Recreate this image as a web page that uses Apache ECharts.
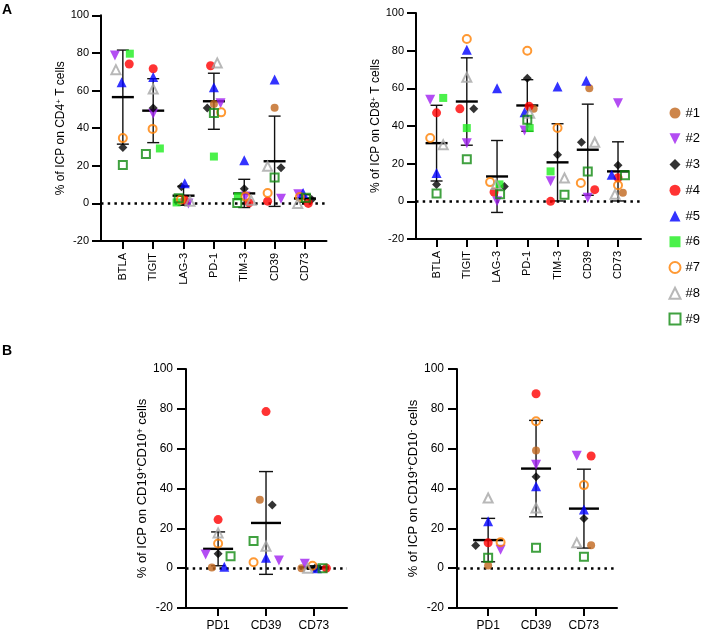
<!DOCTYPE html>
<html><head><meta charset="utf-8">
<script src="https://cdn.jsdelivr.net/npm/echarts@6/dist/echarts.min.js"></script>
<style>html,body{margin:0;padding:0;background:#fff}#c{width:722px;height:634px}</style>
</head><body><div id="c"></div>
<script>
// ---------- DATA ----------
const subjects = ['#1','#2','#3','#4','#5','#6','#7','#8','#9'];
const catsT = ['BTLA','TIGIT','LAG-3','PD-1','TIM-3','CD39','CD73'];
const catsB = ['PD1','CD39','CD73'];

// rows = subjects #1..#9, columns = categories
const cd4Values = [
  [null, null, null, 52.8, null, 50.9, null],
  [78.6, 47.6, 0.0, 53.3, 3.7, 2.5, 4.8],
  [29.7, 50.7, 8.9, 50.7, 7.8, 19.0, 2.1],
  [74.1, 71.6, 1.8, 73.2, 0.3, 1.2, 0.0],
  [64.4, 67.2, 10.7, 61.7, 22.9, 65.8, 5.5],
  [79.6, 29.2, 0.5, 24.9, 3.7, null, null],
  [34.7, 39.6, 2.1, 48.4, 3.6, 5.5, 3.4],
  [71.1, 60.8, 1.2, 74.7, 1.6, 19.7, 0.0],
  [20.4, 26.3, 2.7, 48.0, 0.2, 13.7, 3.0]
];
const cd4Mean = [56.5, 49.3, 4.1, 54.3, 5.3, 22.4, 2.6];
const cd4SD   = [25.0, 17.0, 5.1, 14.9, 7.5, 24.0, 2.0];

const cd8Values = [
  [null, null, null, 49.1, null, 60.0, 4.6],
  [53.9, 30.9, 0.0, 37.6, 10.6, 1.9, 52.1],
  [9.0, 49.1, 7.9, 65.3, 24.7, 31.4, 19.1],
  [47.0, 49.1, 4.9, 50.5, 0.0, 6.2, 12.5],
  [15.0, 80.5, 60.0, 47.3, 61.0, 64.0, 14.1],
  [54.9, 38.9, 9.0, 38.9, 15.9, null, null],
  [33.6, 86.2, 10.2, 80.0, 38.9, 9.7, 8.5],
  [30.0, 65.9, 9.0, 46.8, 12.4, 31.4, 3.7],
  [4.2, 22.3, 3.7, 43.3, 3.5, 15.9, 13.8]
];
const cd8Mean = [30.9, 53.0, 13.2, 50.9, 20.7, 27.4, 15.9];
const cd8SD   = [20.1, 23.2, 19.1, 13.7, 20.5, 24.2, 15.7];

const bPlusValues = [
  [0.3, 34.4, 0.0],
  [6.8, 3.8, 2.2],
  [7.3, 31.7, 0.0],
  [24.4, 78.6, 0.0],
  [0.7, 5.2, 0.0],
  [null, null, null],
  [12.4, 3.0, 1.2],
  [17.7, 11.0, 0.0],
  [6.0, 13.7, 0.0]
];
const bPlusMean = [9.7, 22.7, 0.4];
const bPlusSD   = [8.5, 25.8, 0.8];

const bMinusValues = [
  [1.3, 59.1, 11.5],
  [9.3, 51.9, 56.4],
  [11.4, 45.9, 24.9],
  [12.7, 87.6, 56.3],
  [23.5, 41.1, 29.4],
  [null, null, null],
  [13.0, 73.8, 41.7],
  [35.2, 30.2, 12.7],
  [5.2, 10.2, 5.7]
];
const bMinusMean = [14.1, 50.0, 29.9];
const bMinusSD   = [10.9, 24.2, 19.8];

// horizontal jitter of each point (category units), same shape as the value tables
const cd4Jitter = [
  [0, 0, 0, 0, 0, 0, 0],
  [-0.26, 0, 0.16, 0.22, 0.04, 0.21, -0.22],
  [0, 0, -0.07, -0.22, 0, 0.21, 0.22],
  [0.21, 0, 0.04, -0.11, 0.16, -0.23, 0.11],
  [-0.04, 0, 0.04, 0, 0, 0, -0.06],
  [0.23, 0.22, -0.23, 0, -0.21, 0, 0],
  [0, -0.02, -0.09, 0.24, 0.04, -0.23, -0.17],
  [-0.23, 0, 0.21, 0.11, 0.23, -0.23, -0.24],
  [0, -0.24, -0.16, 0, -0.23, 0, 0.03]
];
const cd8Jitter = [
  [0, 0, 0, 0.21, 0, 0.05, 0.16],
  [-0.21, 0, 0, -0.09, -0.23, 0, 0],
  [0, 0.23, 0.24, 0, 0, -0.21, 0],
  [0, -0.23, -0.1, 0.06, -0.23, 0.23, 0],
  [0, 0, 0, -0.09, 0, -0.05, -0.21],
  [0.22, 0, 0.08, 0.08, -0.23, 0, 0],
  [-0.21, 0, -0.23, 0, 0, -0.23, 0],
  [0.22, 0, -0.03, 0.08, 0.23, 0.23, -0.1],
  [0, 0, 0.1, 0, 0.23, 0, 0.23]
];
const bPlusJitter = [
  [-0.13, -0.13, -0.26],
  [-0.26, 0.27, -0.19],
  [0, 0.13, 0.02],
  [0, 0, 0.26],
  [0.13, 0, 0.06],
  [0, 0, 0],
  [0, -0.26, -0.03],
  [0, 0, -0.13],
  [0.26, -0.26, 0.18]
];
const bMinusJitter = [
  [0, 0, 0.15],
  [0.26, 0, -0.15],
  [-0.26, 0, 0],
  [0, 0, 0.15],
  [0, 0, 0],
  [0, 0, 0],
  [0.26, 0, 0],
  [0, 0, -0.15],
  [0, 0, 0]
];

const yTicks = {min: -20, max: 100, interval: 20};

// ---------- STYLE / LAYOUT ----------
const FONT = '"Liberation Sans", Arial, Helvetica, sans-serif';
const markers = [
  {symbol: 'circle',   size: 8,  color: '#C0671D'},
  {symbol: 'path://M0,0 L10,0 L5,10 Z', size: 10, color: '#A020F0'},
  {symbol: 'diamond',  size: 9,  color: '#000000'},
  {symbol: 'circle',   size: 9,  color: '#FF0000'},
  {symbol: 'triangle', size: 10, color: '#0000FF'},
  {symbol: 'rect',     size: 8,  color: '#1EEE1E'},
  {symbol: 'circle',   size: 8,  color: '#FF8000', hollow: true},
  {symbol: 'triangle', size: 9,  color: '#A6A6A6', hollow: true},
  {symbol: 'rect',     size: 8,  color: '#108A10', hollow: true}
];

const panels = [
  {cats: catsT, values: cd4Values, jitter: cd4Jitter, mean: cd4Mean, sd: cd4SD,
   name: '% of ICP on CD4{sup|+} T cells',
   grid: {left: 101, top: 15.3, width: 225.5, height: 225.7}, xmin: -0.72, xmax: 6.71,
   fs: 11, nameFs: 12, nameGap: 29, rotate: 90, labelMargin: 12, meanHalf: 11, capHalf: 6},
  {cats: catsT, values: cd8Values, jitter: cd8Jitter, mean: cd8Mean, sd: cd8SD,
   name: '% of ICP on CD8{sup|+} T cells',
   grid: {left: 416, top: 13, width: 225, height: 226}, xmin: -0.68, xmax: 6.76,
   fs: 11, nameFs: 12, nameGap: 29, rotate: 90, labelMargin: 12, meanHalf: 11, capHalf: 6},
  {cats: catsB, values: bPlusValues, jitter: bPlusJitter, mean: bPlusMean, sd: bPlusSD,
   name: '% of ICP on CD19{sup|+}CD10{sup|+} cells',
   grid: {left: 186, top: 369, width: 161, height: 239}, xmin: -0.67, xmax: 2.69,
   fs: 12, nameFs: 13, nameGap: 35, rotate: 0, labelMargin: 12, meanHalf: 15, capHalf: 7},
  {cats: catsB, values: bMinusValues, jitter: bMinusJitter, mean: bMinusMean, sd: bMinusSD,
   name: '% of ICP on CD19{sup|+}CD10{sup|-} cells',
   grid: {left: 457, top: 369, width: 160, height: 239}, xmin: -0.65, xmax: 2.69,
   fs: 12, nameFs: 13, nameGap: 36, rotate: 0, labelMargin: 12, meanHalf: 15, capHalf: 7}
];

const grids = [], xAxes = [], yAxes = [], series = [];
panels.forEach((p, pi) => {
  grids.push(Object.assign({outerBoundsMode: 'none', containLabel: false}, p.grid));
  const idx = p.cats.map((c, i) => i);
  xAxes.push({
    type: 'value', gridIndex: pi, min: p.xmin, max: p.xmax,
    axisLine: {show: true, onZero: false, lineStyle: {color: '#000', width: 2}},
    axisTick: {show: true, length: 8, lineStyle: {color: '#000', width: 2}, customValues: idx},
    axisLabel: {show: true, customValues: idx, rotate: p.rotate, margin: p.labelMargin,
      color: '#000', fontSize: p.fs, fontFamily: FONT,
      formatter: v => p.cats[Math.round(v)]},
    splitLine: {show: false}
  });
  yAxes.push({
    type: 'value', gridIndex: pi, min: yTicks.min, max: yTicks.max, interval: yTicks.interval,
    axisLine: {show: true, onZero: false, lineStyle: {color: '#000', width: 2}},
    axisTick: {show: true, length: 9, lineStyle: {color: '#000', width: 2}},
    axisLabel: {color: '#000', fontSize: p.fs, fontFamily: FONT, margin: p.rotate ? 12 : 13},
    splitLine: {show: false},
    name: p.name, nameLocation: 'middle', nameRotate: 90, nameGap: p.nameGap,
    nameTextStyle: {color: '#000', fontSize: p.nameFs, fontFamily: FONT,
      rich: {sup: {fontSize: Math.round(p.nameFs * 0.7), verticalAlign: 'top', lineHeight: 8,
                   color: '#000', fontFamily: FONT}}}
  });
  // error bars (mean ± SD)
  series.push({
    type: 'custom', xAxisIndex: pi, yAxisIndex: pi, z: 1, silent: true,
    data: p.mean.map((m, i) => [i, m, p.sd[i]]),
    encode: {x: 0, y: 1},
    renderItem: (params, api) => {
      const i = api.value(0), m = api.value(1), s = api.value(2);
      const c = api.coord([i, m]);
      const x = c[0], ym = c[1];
      const yt = api.coord([i, m + s])[1], yb = api.coord([i, m - s])[1];
      const ls = {stroke: '#111', lineWidth: 1.4};
      return {type: 'group', children: [
        {type: 'line', shape: {x1: x, y1: yt, x2: x, y2: yb}, style: ls},
        {type: 'line', shape: {x1: x - p.capHalf, y1: yt, x2: x + p.capHalf, y2: yt}, style: ls},
        {type: 'line', shape: {x1: x - p.capHalf, y1: yb, x2: x + p.capHalf, y2: yb}, style: ls},
        {type: 'line', shape: {x1: x - p.meanHalf, y1: ym, x2: x + p.meanHalf, y2: ym},
         style: {stroke: '#000', lineWidth: 2.4}}
      ]};
    }
  });
  subjects.forEach((sName, si) => {
    const mk = markers[si];
    const data = [];
    p.values[si].forEach((v, ci) => {
      if (v !== null) data.push([ci + p.jitter[si][ci], v]);
    });
    const s = {
      type: 'scatter', name: sName, xAxisIndex: pi, yAxisIndex: pi, z: 3,
      symbol: mk.symbol, symbolSize: mk.size,
      itemStyle: mk.hollow
        ? {color: 'rgba(255,255,255,0)', borderColor: mk.color, borderWidth: 2}
        : {color: mk.color, borderWidth: 0},
      emphasis: {disabled: true},
      data: data
    };
    if (si === 0) {
      s.markLine = {
        silent: true, symbol: ['none', 'none'], label: {show: false},
        emphasis: {disabled: true}, z: 2,
        lineStyle: {color: '#000', type: [2.5, 4.2], width: 2.5},
        data: [{yAxis: 0}]
      };
    }
    series.push(s);
  });
});

const chart = echarts.init(document.getElementById('c'), null, {renderer: 'canvas'});
chart.setOption({
  animation: false,
  backgroundColor: '#fff',
  textStyle: {fontFamily: FONT},
  grid: grids, xAxis: xAxes, yAxis: yAxes,
  legend: {
    data: subjects, orient: 'vertical', left: 663.5, top: 101.5,
    itemWidth: 11, itemHeight: 11, itemGap: 12.75, selectedMode: false,
    textStyle: {fontSize: 13, color: '#000', fontFamily: FONT, lineHeight: 11}
  },
  graphic: [
    {type: 'text', left: 2, top: 3, style: {text: 'A', fontSize: 14, fontWeight: 'bold', fill: '#000', fontFamily: FONT}},
    {type: 'text', left: 2, top: 344, style: {text: 'B', fontSize: 14, fontWeight: 'bold', fill: '#000', fontFamily: FONT}}
  ],
  series: series
});
</script></body></html>
